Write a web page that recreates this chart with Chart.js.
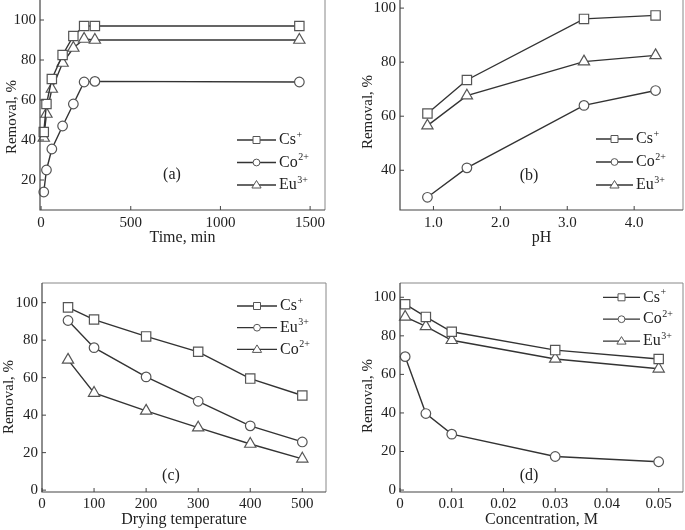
<!DOCTYPE html>
<html>
<head>
<meta charset="utf-8">
<script src="https://cdn.jsdelivr.net/npm/chart.js"></script>
<style>
  body { margin: 0; background: #fff; }
  .panel { position: absolute; }
</style>
</head>
<body>
<div class="panel" style="left:0;top:0"><canvas id="chart-a" width="340" height="250"></canvas></div>
<div class="panel" style="left:340px;top:0"><canvas id="chart-b" width="345" height="250"></canvas></div>
<div class="panel" style="left:0;top:260px"><canvas id="chart-c" width="340" height="270"></canvas></div>
<div class="panel" style="left:340px;top:260px"><canvas id="chart-d" width="345" height="270"></canvas></div>
<script>
// (a) removal vs contact time
const timeMin = [15, 30, 60, 120, 180, 240, 300, 1440];
const timeCs = [44, 58, 70.5, 82.5, 92, 97, 97, 97];
const timeCo = [14, 25, 35.5, 47, 58, 69, 69.3, 69];
const timeEu = [41, 53, 65.5, 78.5, 86, 90.5, 90, 90];
const timeXTicks = [0, 500, 1000, 1500];
const timeYTicks = [20, 40, 60, 80, 100];

// (b) removal vs pH
const phVals = [0.91, 1.5, 3.25, 4.32];
const phCs = [61, 73.4, 96, 97.3];
const phCo = [30, 40.9, 64, 69.5];
const phEu = [56.5, 67.6, 80.2, 82.5];
const phXTicks = [1, 2, 3, 4];
const phYTicks = [40, 60, 80, 100];

// (c) removal vs drying temperature
const dryTemp = [50, 100, 200, 300, 400, 500];
const dryCs = [97.5, 91, 82, 73.8, 59.5, 50.5];
const dryEu = [90.5, 76, 60.4, 47.4, 34.3, 25.7];
const dryCo = [69.5, 51.8, 42.3, 33.3, 24.6, 16.7];
const dryXTicks = [0, 100, 200, 300, 400, 500];
const dryYTicks = [0, 20, 40, 60, 80, 100];

// (d) removal vs concentration
const concM = [0.001, 0.005, 0.01, 0.03, 0.05];
const concCs = [96.4, 89.8, 82.1, 72.6, 68];
const concCo = [69.2, 39.7, 29, 17.4, 14.7];
const concEu = [89.8, 84.9, 77.7, 68, 62.9];
const concXTicks = [0, 0.01, 0.02, 0.03, 0.04, 0.05];
const concYTicks = [0, 20, 40, 60, 80, 100];

const FONT = '"Liberation Serif", "Times New Roman", serif';
const TEXT = '#222';
const LINE = '#333';
const MARK = '#555';
const RADIUS = { rect: 6.6, circle: 4.8, triangle: 6.5 };

// small marker for the legend
function drawMarker(ctx, shape, x, y) {
  ctx.beginPath();
  if (shape === 'rect') {
    ctx.rect(x - 3.5, y - 3.5, 7, 7);
  } else if (shape === 'circle') {
    ctx.arc(x, y, 3.4, 0, Math.PI * 2);
  } else {
    ctx.moveTo(x, y - 4.5);
    ctx.lineTo(x + 4.6, y + 3);
    ctx.lineTo(x - 4.6, y + 3);
    ctx.closePath();
  }
  ctx.fillStyle = '#fff';
  ctx.fill();
  ctx.strokeStyle = MARK;
  ctx.lineWidth = 1;
  ctx.stroke();
}

// frame, inward ticks, y title, legend and panel tag
const decorPlugin = {
  id: 'decor',
  afterDraw(chart, args, opts) {
    const { ctx, chartArea: a, scales } = chart;
    ctx.save();
    // right / top frame
    ctx.strokeStyle = '#888';
    ctx.lineWidth = 1;
    ctx.beginPath();
    ctx.moveTo(a.right, a.bottom);
    ctx.lineTo(a.right, a.top);
    if (opts.top) ctx.lineTo(a.left, a.top);
    ctx.stroke();
    // axes
    ctx.strokeStyle = '#444';
    ctx.lineWidth = 1.2;
    ctx.beginPath();
    ctx.moveTo(a.left, a.top);
    ctx.lineTo(a.left, a.bottom);
    ctx.lineTo(a.right, a.bottom);
    ctx.stroke();
    // inward ticks
    ctx.lineWidth = 1;
    ctx.beginPath();
    scales.x.ticks.forEach(t => {
      const px = scales.x.getPixelForValue(t.value);
      ctx.moveTo(px, a.bottom);
      ctx.lineTo(px, a.bottom - 4);
    });
    scales.y.ticks.forEach(t => {
      const py = scales.y.getPixelForValue(t.value);
      ctx.moveTo(a.left, py);
      ctx.lineTo(a.left + 4, py);
    });
    ctx.stroke();

    // y axis title (sits a little below the plot centre in the original)
    ctx.fillStyle = TEXT;
    ctx.font = '15px ' + FONT;
    ctx.textAlign = 'center';
    ctx.textBaseline = 'middle';
    ctx.save();
    ctx.translate(opts.yTitle.x, opts.yTitle.y);
    ctx.rotate(-Math.PI / 2);
    ctx.fillText('Removal, %', 0, 0);
    ctx.restore();

    // legend
    const lg = opts.legend;
    chart.data.datasets.forEach((ds, i) => {
      const y = lg.y + i * lg.gap;
      ctx.strokeStyle = LINE;
      ctx.lineWidth = 1.3;
      ctx.beginPath();
      ctx.moveTo(lg.x, y);
      ctx.lineTo(lg.x + lg.len, y);
      ctx.stroke();
      drawMarker(ctx, ds.pointStyle, lg.x + lg.len / 2, y);
      ctx.fillStyle = TEXT;
      ctx.textBaseline = 'middle';
      ctx.textAlign = 'left';
      ctx.font = '16px ' + FONT;
      const tx = lg.x + lg.len + 3;
      ctx.fillText(ds.label, tx, y);
      const w = ctx.measureText(ds.label).width;
      ctx.font = '10px ' + FONT;
      ctx.fillText(ds.sup, tx + w + 0.5, y - 5);
    });

    // panel tag
    ctx.font = '16px ' + FONT;
    ctx.textAlign = 'center';
    ctx.textBaseline = 'middle';
    ctx.fillStyle = TEXT;
    ctx.fillText(opts.tag.text, opts.tag.x, opts.tag.y);
    ctx.restore();
  }
};

function makeChart(id, cfg) {
  const datasets = cfg.series.map(s => ({
    label: s.label,
    sup: s.sup,
    data: cfg.x.map((x, i) => ({ x: x, y: s.y[i] })),
    borderColor: LINE,
    borderWidth: 1.4,
    pointStyle: s.shape,
    pointRadius: RADIUS[s.shape],
    pointBackgroundColor: '#fff',
    pointBorderColor: MARK,
    pointBorderWidth: 1.2,
    tension: 0,
    clip: false
  }));
  const tickFont = { family: FONT, size: 15 };
  return new Chart(document.getElementById(id), {
    type: 'line',
    data: { datasets },
    plugins: [decorPlugin],
    options: {
      responsive: false,
      animation: false,
      layout: { padding: cfg.pad, autoPadding: false },
      plugins: {
        legend: { display: false },
        tooltip: { enabled: false },
        decor: { legend: cfg.legend, tag: cfg.tag, top: cfg.top, yTitle: cfg.yTitle }
      },
      scales: {
        x: {
          type: 'linear',
          min: cfg.xMin,
          max: cfg.xMax,
          afterBuildTicks: s => { s.ticks = cfg.xTicks.map(v => ({ value: v })); },
          afterFit: s => { s.height = cfg.xh; s.paddingLeft = 0; s.paddingRight = 0; },
          grid: { display: false, drawTicks: false },
          border: { display: false },
          ticks: { padding: cfg.xPadTick, color: TEXT, font: tickFont, maxRotation: 0, autoSkip: false, callback: cfg.xFmt },
          title: { display: true, text: cfg.xTitle, color: TEXT, font: { family: FONT, size: 16 }, padding: { top: 0, bottom: cfg.xTitlePad } }
        },
        y: {
          type: 'linear',
          min: cfg.yMin,
          max: cfg.yMax,
          afterBuildTicks: s => { s.ticks = cfg.yTicks.map(v => ({ value: v })); },
          afterFit: s => { s.width = cfg.yw; s.paddingTop = 0; s.paddingBottom = 0; },
          grid: { display: false, drawTicks: false },
          border: { display: false },
          ticks: { padding: 4, color: TEXT, font: tickFont, callback: v => String(v) },
          title: { display: false }
        }
      }
    }
  });
}

makeChart('chart-a', {
  x: timeMin,
  series: [
    { label: 'Cs', sup: '+', y: timeCs, shape: 'rect' },
    { label: 'Co', sup: '2+', y: timeCo, shape: 'circle' },
    { label: 'Eu', sup: '3+', y: timeEu, shape: 'triangle' }
  ],
  xMin: -6, xMax: 1583, yMin: 5, yMax: 110,
  xTicks: timeXTicks, yTicks: timeYTicks,
  xFmt: v => String(v),
  xTitle: 'Time, min',
  pad: { left: 0, right: 15, top: 0, bottom: 0 },
  xh: 40, yw: 40, xPadTick: 4, xTitlePad: 3,
  yTitle: { x: 12, y: 117 },
  legend: { x: 237, len: 39, y: 140, gap: 22.5 },
  tag: { text: '(a)', x: 172, y: 175 },
  top: false
});

makeChart('chart-b', {
  x: phVals,
  series: [
    { label: 'Cs', sup: '+', y: phCs, shape: 'rect' },
    { label: 'Co', sup: '2+', y: phCo, shape: 'circle' },
    { label: 'Eu', sup: '3+', y: phEu, shape: 'triangle' }
  ],
  xMin: 0.5, xMax: 4.73, yMin: 25.3, yMax: 103,
  xTicks: phXTicks, yTicks: phYTicks,
  xFmt: v => v.toFixed(1),
  xTitle: 'pH',
  pad: { left: 0, right: 2, top: 0, bottom: 0 },
  xh: 40, yw: 60, xPadTick: 4, xTitlePad: 3,
  yTitle: { x: 28.5, y: 112 },
  legend: { x: 256, len: 37, y: 139, gap: 23 },
  tag: { text: '(b)', x: 189, y: 176 },
  top: false
});

makeChart('chart-c', {
  x: dryTemp,
  series: [
    { label: 'Cs', sup: '+', y: dryCs, shape: 'rect' },
    { label: 'Eu', sup: '3+', y: dryEu, shape: 'circle' },
    { label: 'Co', sup: '2+', y: dryCo, shape: 'triangle' }
  ],
  xMin: 0, xMax: 545.5, yMin: -1, yMax: 110.5,
  xTicks: dryXTicks, yTicks: dryYTicks,
  xFmt: v => String(v),
  xTitle: 'Drying temperature',
  pad: { left: 0, right: 14, top: 23, bottom: 0 },
  xh: 38, yw: 42, xPadTick: 3, xTitlePad: 1,
  yTitle: { x: 9.5, y: 137 },
  legend: { x: 237, len: 40, y: 46, gap: 21.7 },
  tag: { text: '(c)', x: 171, y: 216 },
  top: true
});

makeChart('chart-d', {
  x: concM,
  series: [
    { label: 'Cs', sup: '+', y: concCs, shape: 'rect' },
    { label: 'Co', sup: '2+', y: concCo, shape: 'circle' },
    { label: 'Eu', sup: '3+', y: concEu, shape: 'triangle' }
  ],
  xMin: 0, xMax: 0.0547, yMin: -1, yMax: 107.4,
  xTicks: concXTicks, yTicks: concYTicks,
  xFmt: v => (v === 0 ? '0' : v.toFixed(2)),
  xTitle: 'Concentration, M',
  pad: { left: 0, right: 2, top: 23, bottom: 0 },
  xh: 38, yw: 60, xPadTick: 3, xTitlePad: 1,
  yTitle: { x: 28.5, y: 136 },
  legend: { x: 263, len: 37, y: 37.3, gap: 21.9 },
  tag: { text: '(d)', x: 189, y: 216 },
  top: true
});
</script>
</body>
</html>
